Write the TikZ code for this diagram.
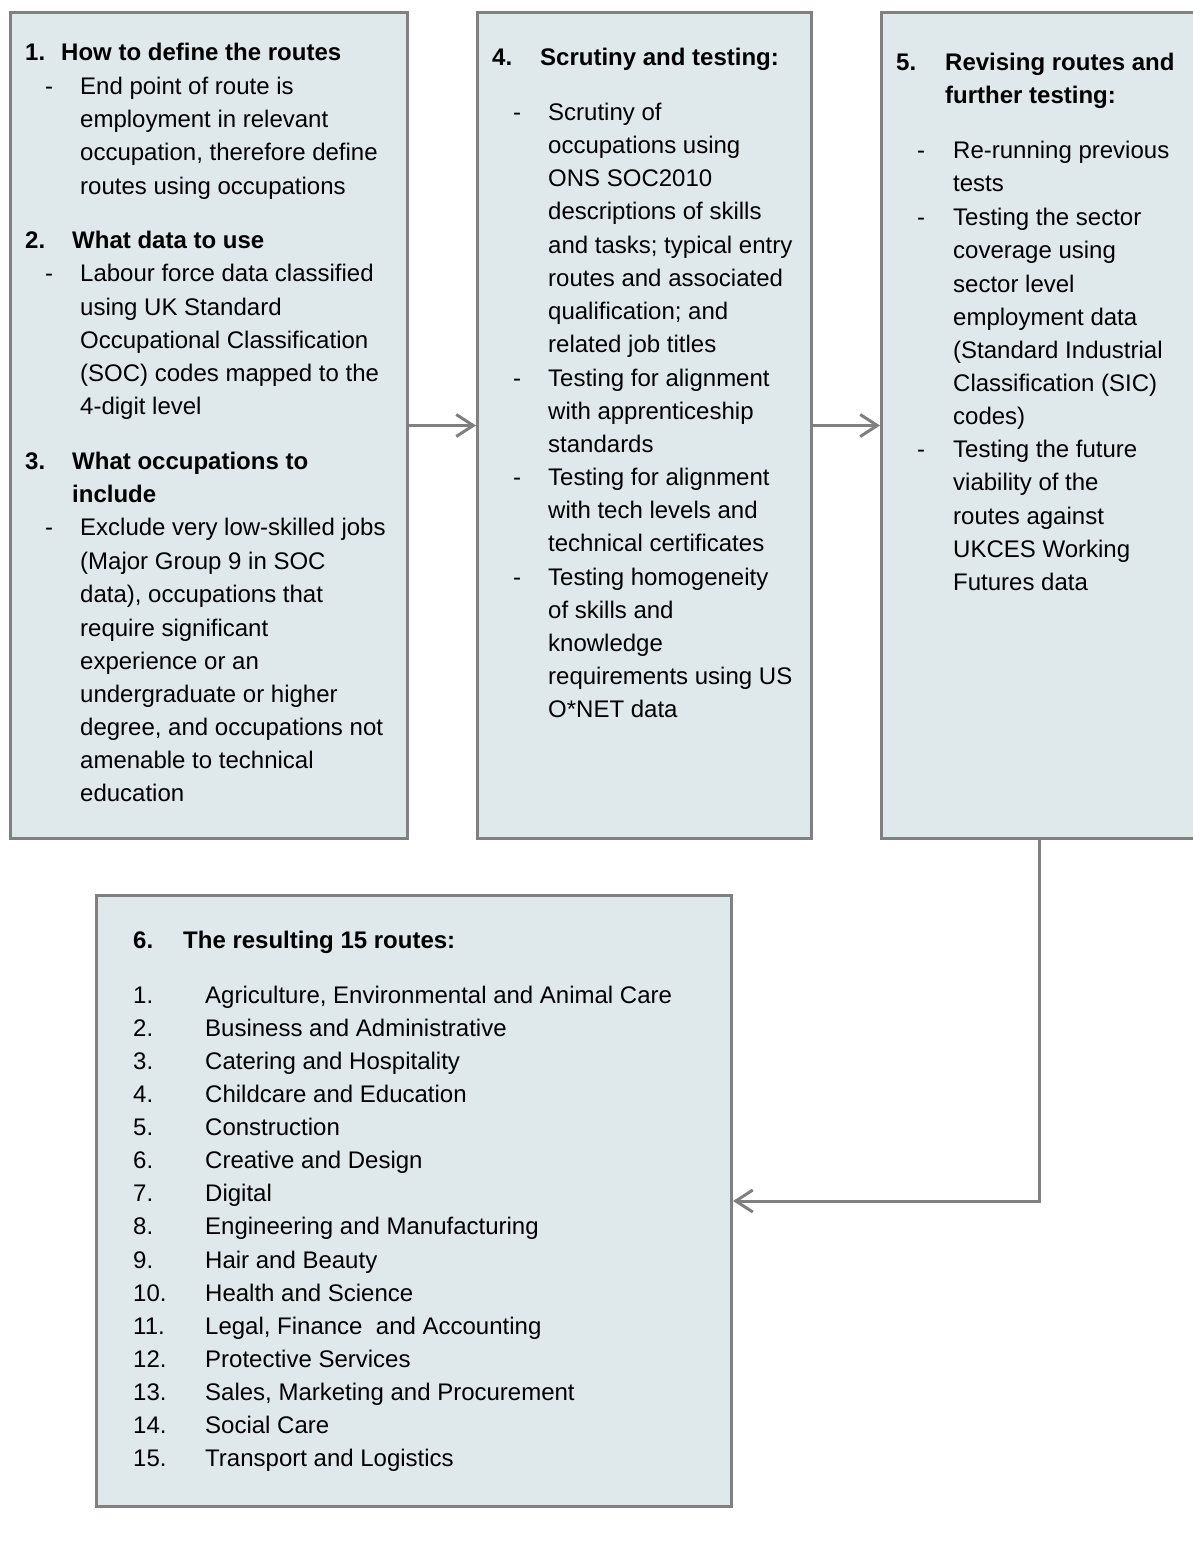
\documentclass[tikz,border=0pt]{standalone}
\usepackage{fontspec}
\setmainfont{Liberation Sans}
\usetikzlibrary{arrows.meta}
\definecolor{boxfill}{HTML}{DFE8EB}
\definecolor{boxline}{HTML}{808080}
\newcommand\mytl[4]{\node[txt] (#1) at (#2,#3+8) {#4};}
\newcommand\myhd[4]{\node[hd] (#1) at (#2,#3+8) {#4};}
\begin{document}
\begin{tikzpicture}[x=1pt,y=-1pt,
  box/.style={draw=boxline, fill=boxfill, line width=3pt, rectangle, anchor=north west, inner sep=0pt},
  txt/.style={anchor=base west, inner sep=0pt, font=\fontsize{24}{33}\selectfont},
  hd/.style={txt, font=\fontsize{24}{33}\selectfont\bfseries},
  conn/.style={draw=boxline, line width=3pt, -{Straight Barb[length=17pt,width=22pt]}}]
\useasboundingbox (0,0) rectangle (1193,1548);
\fill[white] (0,0) rectangle (1193,1548);
% boxes
\node[box, minimum width=397pt, minimum height=826pt] (b1) at (9,11) {};
\node[box, minimum width=334pt, minimum height=826pt] (b2) at (476,11) {};
\node[box, minimum width=316pt, minimum height=826pt] (b3) at (880,11) {};
\node[box, minimum width=635pt, minimum height=611pt] (b6) at (95,894) {};
% connectors
\draw[conn] (b1.east) -- (b2.west);
\draw[conn] (b2.east) -- (b3.west);
\draw[conn] (b3.south) |- (b6.east);
% box 1
\myhd{a1n}{25}{52}{1.}
\myhd{a1}{61}{52}{How to define the routes}
\mytl{a1d}{45}{86}{-}
\mytl{a1a}{80}{86}{End point of route is}
\mytl{a1b}{80}{119}{employment in relevant}
\mytl{a1c}{80}{152}{occupation, therefore define}
\mytl{a1e}{80}{186}{routes using occupations}
\myhd{a2n}{25}{240}{2.}
\myhd{a2}{72}{240}{What data to use}
\mytl{a2d}{45}{273}{-}
\mytl{a2a}{80}{273}{Labour force data classified}
\mytl{a2b}{80}{307}{using UK Standard}
\mytl{a2c}{80}{340}{Occupational Classification}
\mytl{a2e}{80}{373}{(SOC) codes mapped to the}
\mytl{a2f}{80}{406}{4-digit level}
\myhd{a3n}{25}{461}{3.}
\myhd{a3}{72}{461}{What occupations to}
\myhd{a3x}{72}{494}{include}
\mytl{a3d}{45}{527}{-}
\mytl{a3a}{80}{527}{Exclude very low-skilled jobs}
\mytl{a3b}{80}{561}{(Major Group 9 in SOC}
\mytl{a3c}{80}{594}{data), occupations that}
\mytl{a3e}{80}{628}{require significant}
\mytl{a3f}{80}{661}{experience or an}
\mytl{a3g}{80}{694}{undergraduate or higher}
\mytl{a3h}{80}{727}{degree, and occupations not}
\mytl{a3i}{80}{760}{amenable to technical}
\mytl{a3j}{80}{793}{education}
% box 2
\myhd{c4n}{492}{57}{4.}
\myhd{c4}{540}{57}{Scrutiny and testing:}
\mytl{c1d}{513}{112}{-}
\mytl{c1a}{548}{112}{Scrutiny of}
\mytl{c1b}{548}{145}{occupations using}
\mytl{c1c}{548}{178}{ONS SOC2010}
\mytl{c1e}{548}{211}{descriptions of skills}
\mytl{c1f}{548}{245}{and tasks; typical entry}
\mytl{c1g}{548}{278}{routes and associated}
\mytl{c1h}{548}{311}{qualification; and}
\mytl{c1i}{548}{344}{related job titles}
\mytl{c2d}{513}{378}{-}
\mytl{c2a}{548}{378}{Testing for alignment}
\mytl{c2b}{548}{411}{with apprenticeship}
\mytl{c2c}{548}{444}{standards}
\mytl{c3d}{513}{477}{-}
\mytl{c3a}{548}{477}{Testing for alignment}
\mytl{c3b}{548}{510}{with tech levels and}
\mytl{c3c}{548}{543}{technical certificates}
\mytl{c4d}{513}{577}{-}
\mytl{c4a}{548}{577}{Testing homogeneity}
\mytl{c4b}{548}{610}{of skills and}
\mytl{c4c}{548}{643}{knowledge}
\mytl{c4e}{548}{676}{requirements using US}
\mytl{c4f}{548}{709}{O*NET data}
% box 3
\myhd{d5n}{896}{62}{5.}
\myhd{d5}{945}{62}{Revising routes and}
\myhd{d5x}{945}{95}{further testing:}
\mytl{d1d}{917}{150}{-}
\mytl{d1a}{953}{150}{Re-running previous}
\mytl{d1b}{953}{183}{tests}
\mytl{d2d}{917}{217}{-}
\mytl{d2a}{953}{217}{Testing the sector}
\mytl{d2b}{953}{250}{coverage using}
\mytl{d2c}{953}{284}{sector level}
\mytl{d2e}{953}{317}{employment data}
\mytl{d2f}{953}{350}{(Standard Industrial}
\mytl{d2g}{953}{383}{Classification (SIC)}
\mytl{d2h}{953}{416}{codes)}
\mytl{d3d}{917}{449}{-}
\mytl{d3a}{953}{449}{Testing the future}
\mytl{d3b}{953}{482}{viability of the}
\mytl{d3c}{953}{516}{routes against}
\mytl{d3e}{953}{549}{UKCES Working}
\mytl{d3f}{953}{582}{Futures data}
% box 6
\myhd{e6n}{133}{940}{6.}
\myhd{e6}{183}{940}{The resulting 15 routes:}
\foreach \i/\t [evaluate=\i as \yy using 995+(\i-1)*33.14] in {
  1/{Agriculture, Environmental and Animal Care},
  2/{Business and Administrative},
  3/{Catering and Hospitality},
  4/{Childcare and Education},
  5/{Construction},
  6/{Creative and Design},
  7/{Digital},
  8/{Engineering and Manufacturing},
  9/{Hair and Beauty},
  10/{Health and Science},
  11/{Legal, Finance\ \ and Accounting},
  12/{Protective Services},
  13/{Sales, Marketing and Procurement},
  14/{Social Care},
  15/{Transport and Logistics}}{
  \node[txt] (rn\i) at (133,\yy+8) {\i.};
  \node[txt] (rt\i) at (205,\yy+8) {\t};
}
\end{tikzpicture}
\end{document}
